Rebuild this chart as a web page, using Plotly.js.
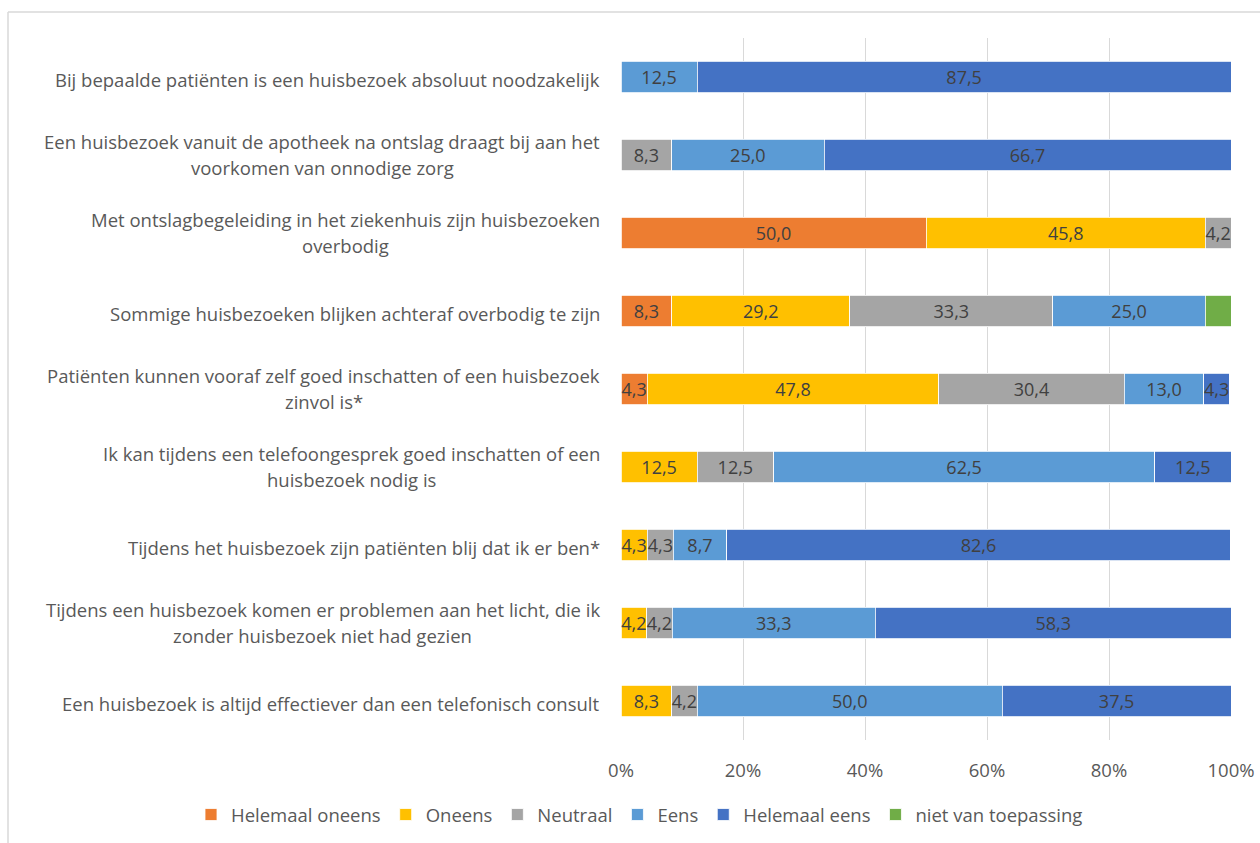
<!DOCTYPE html>
<html>
<head>
<meta charset="utf-8">
<script src="https://cdn.plot.ly/plotly-3.0.1.min.js"></script>
<style>
html,body{margin:0;padding:0;background:#fff;}
#chart{width:1260px;height:843px;}
</style>
</head>
<body>
<div id="chart"></div>
<script>
// Categories, top to bottom
const categories = [
  "Bij bepaalde patiënten is een huisbezoek absoluut noodzakelijk",
  "Een huisbezoek vanuit de apotheek na ontslag draagt bij aan het<br>voorkomen van onnodige zorg",
  "Met ontslagbegeleiding in het ziekenhuis zijn huisbezoeken<br>overbodig",
  "Sommige huisbezoeken blijken achteraf overbodig te zijn",
  "Patiënten kunnen vooraf zelf goed inschatten of een huisbezoek<br>zinvol is*",
  "Ik kan tijdens een telefoongesprek goed inschatten of een<br>huisbezoek nodig is",
  "Tijdens het huisbezoek zijn patiënten blij dat ik er ben*",
  "Tijdens een huisbezoek komen er problemen aan het licht, die ik<br>zonder huisbezoek niet had gezien",
  "Een huisbezoek is altijd effectiever dan een telefonisch consult"
];

const seriesNames = ["Helemaal oneens", "Oneens", "Neutraal", "Eens", "Helemaal eens", "niet van toepassing"];

const helemaalOneens   = [0,    0,    50.0, 8.3,  4.3,  0,    0,    0,    0];
const oneens           = [0,    0,    45.8, 29.2, 47.8, 12.5, 4.3,  4.2,  8.3];
const neutraal         = [0,    8.3,  4.2,  33.3, 30.4, 12.5, 4.3,  4.2,  4.2];
const eens             = [12.5, 25.0, 0,    25.0, 13.0, 62.5, 8.7,  33.3, 50.0];
const helemaalEens     = [87.5, 66.7, 0,    0,    4.3,  12.5, 82.6, 58.3, 37.5];
const nietVanToepassing= [0,    0,    0,    4.2,  0,    0,    0,    0,    0];

const xTickVals = [0, 20, 40, 60, 80, 100];
const xTickText = ["0%", "20%", "40%", "60%", "80%", "100%"];

const seriesValues = [helemaalOneens, oneens, neutraal, eens, helemaalEens, nietVanToepassing];
const colors = ["#ED7D31", "#FFC000", "#A5A5A5", "#5B9BD5", "#4472C4", "#70AD47"];
const showLabels = [true, true, true, true, true, false];

const FONT = "Open Sans, sans-serif";
const FS = 18.5;
const FS_DATA = 18;

const fmt = v => v.toFixed(1).replace('.', ',');

const traces = seriesValues.map((vals, i) => ({
  type: 'bar',
  orientation: 'h',
  name: seriesNames[i],
  x: vals,
  y: categories,
  marker: {color: colors[i], line: {color: '#ffffff', width: 0.8}},
  text: vals.map(v => (showLabels[i] && v > 0) ? fmt(v) : ''),
  textposition: 'inside',
  insidetextanchor: 'middle',
  constraintext: 'none',
  textangle: 0,
  textfont: {family: FONT, size: FS_DATA, color: '#404040'},
  hoverinfo: 'x+name'
}));

// measure text widths for centered multi-line labels
const cv = document.createElement('canvas').getContext('2d');
cv.font = FS + "px 'Open Sans'";
const PLOT_L = 621, PLOT_R = 1231, PLOT_T = 38, PLOT_B = 740;
const PW = PLOT_R - PLOT_L;
const PH = PLOT_B - PLOT_T;
const labelRight = 600;
const lineH = 26;

const annotations = [];
categories.forEach(cat => {
  const lines = cat.split('<br>');
  const maxW = Math.max(...lines.map(l => cv.measureText(l).width));
  const n = lines.length;
  lines.forEach((ln, k) => {
    annotations.push({
      xref: 'paper', yref: 'y',
      x: (labelRight - PLOT_L) / PW,
      y: cat,
      xanchor: 'center', yanchor: 'middle',
      xshift: -maxW / 2,
      yshift: ((n - 1) / 2 - k) * lineH + (n > 1 ? 1 : -2),
      text: ln,
      showarrow: false,
      font: {family: FONT, size: FS, color: '#595959'}
    });
  });
});

const layout = {
  width: 1260, height: 843,
  margin: {l: PLOT_L, r: 1260 - PLOT_R, t: PLOT_T, b: 843 - PLOT_B, pad: 0, autoexpand: false},
  paper_bgcolor: '#ffffff',
  plot_bgcolor: '#ffffff',
  barmode: 'stack',
  bargap: 0.6,
  showlegend: true,
  legend: {
    orientation: 'h',
    x: (191 - PLOT_L) / PW, xanchor: 'left',
    y: (PLOT_B - 815) / PH, yanchor: 'middle',
    font: {family: FONT, size: FS, color: '#595959'},
    traceorder: 'normal',
    itemwidth: 30,
    tracegroupgap: 0
  },
  xaxis: {
    range: [0, 100],
    tickvals: xTickVals,
    ticktext: xTickText,
    showgrid: true,
    gridcolor: '#d9d9d9',
    gridwidth: 1,
    zeroline: false,
    showline: false,
    ticks: '',
    ticklabelstandoff: 17,
    tickfont: {family: FONT, size: FS, color: '#595959'},
    fixedrange: true
  },
  yaxis: {
    type: 'category',
    categoryorder: 'array',
    categoryarray: categories,
    autorange: 'reversed',
    showticklabels: false,
    showgrid: false,
    zeroline: false,
    ticks: '',
    fixedrange: true
  },
  annotations: annotations,
  shapes: [
    {type: 'line', xref: 'paper', yref: 'paper',
     x0: (8 - PLOT_L) / PW, x1: (1260 - PLOT_L) / PW,
     y0: (PLOT_B - 12) / PH, y1: (PLOT_B - 12) / PH,
     line: {color: '#d9d9d9', width: 1.5}},
    {type: 'line', xref: 'paper', yref: 'paper',
     x0: (8 - PLOT_L) / PW, x1: (8 - PLOT_L) / PW,
     y0: (PLOT_B - 12) / PH, y1: (PLOT_B - 843) / PH,
     line: {color: '#d9d9d9', width: 1.5}}
  ]
};

Plotly.newPlot('chart', traces, layout, {displayModeBar: false, staticPlot: true});
</script>
</body>
</html>
